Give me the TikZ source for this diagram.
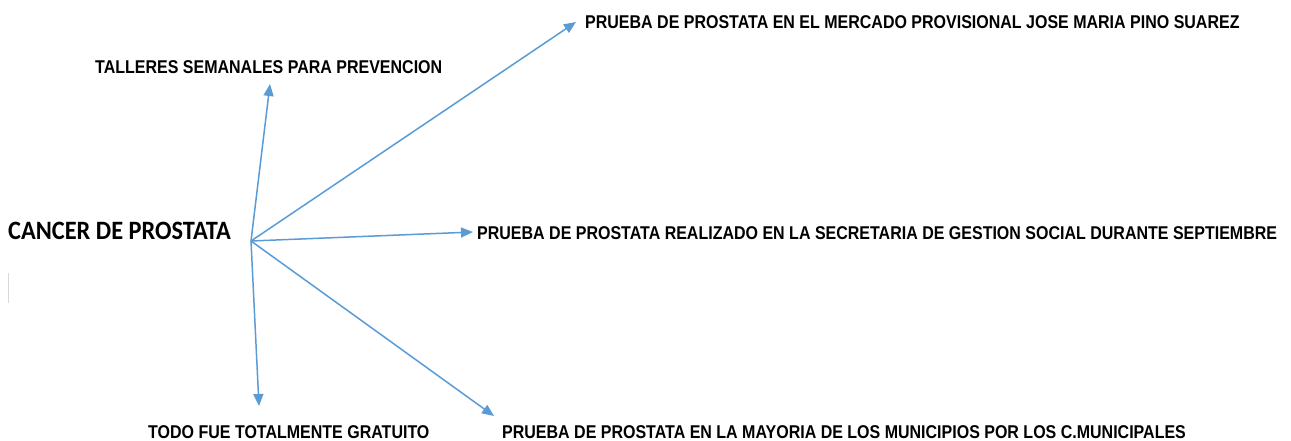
\documentclass[tikz,border=0pt]{standalone}
\usepackage{fontspec}
\setmainfont{Liberation Sans}
\newfontfamily\lblfont[FakeStretch=0.865]{Liberation Sans Bold}
\newfontfamily\ttlfont[FakeStretch=0.92]{Carlito Bold}
\usetikzlibrary{arrows.meta}
\definecolor{arrblue}{RGB}{91,155,213}
\tikzset{
  lbl/.style={anchor=base west, inner sep=0pt, text=black, font=\lblfont\fontsize{18.5}{20}\selectfont},
  ttl/.style={anchor=base west, inner sep=0pt, text=black, font=\ttlfont\fontsize{26.5}{28}\selectfont},
  arr/.style={draw=arrblue, line width=1.5pt, -{Triangle[length=12pt,width=10pt]}},
}
\begin{document}
\begin{tikzpicture}[x=1pt,y=-1pt]
\useasboundingbox (0,0) rectangle (1291,440);
\node[ttl] (cancer) at (8,239) {CANCER DE PROSTATA};
\node[lbl] (tal) at (95,73) {TALLERES SEMANALES PARA PREVENCION};
\node[lbl] (merc) at (585,28) {PRUEBA DE PROSTATA EN EL MERCADO PROVISIONAL JOSE MARIA PINO SUAREZ};
\node[lbl] (secr) at (477,239) {PRUEBA DE PROSTATA REALIZADO EN LA SECRETARIA DE GESTION SOCIAL DURANTE SEPTIEMBRE};
\node[lbl] (todo) at (148,438) {TODO FUE TOTALMENTE GRATUITO};
\node[lbl] (muni) at (502,438) {PRUEBA DE PROSTATA EN LA MAYORIA DE LOS MUNICIPIOS POR LOS C.MUNICIPALES};
\coordinate (o) at (251,241);
\coordinate (t1) at (270,84);
\coordinate (t2) at (576,22);
\coordinate (t3) at (473,232);
\coordinate (t4) at (259,406);
\coordinate (t5) at (494,416);
\draw[arr] (o) -- (t1);
\draw[arr] (o) -- (t2);
\draw[arr] (o) -- (t3);
\draw[arr] (o) -- (t4);
\draw[arr] (o) -- (t5);
\coordinate (g1) at (8.5,273);
\coordinate (g2) at (8.5,303);
\draw[black!15, line width=0.8pt] (g1) -- (g2);
\end{tikzpicture}
\end{document}
